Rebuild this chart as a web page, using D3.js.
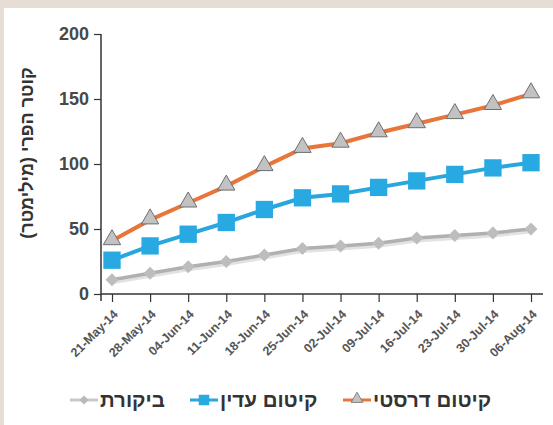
<!DOCTYPE html>
<html lang="he">
<head>
    <meta charset="UTF-8">
    <title>Fruit diameter</title>
    <script src="https://cdn.jsdelivr.net/npm/d3@7"></script>
    <style>
        body{
            margin: 0;
            background-color: #e6ddd5;
        }
        text{
            font-family: "Liberation Sans", Arial, sans-serif;
        }
    </style>
</head>
<body>
<script>

    // data
    const dates = ["21-May-14","28-May-14","04-Jun-14","11-Jun-14","18-Jun-14","25-Jun-14",
                   "02-Jul-14","09-Jul-14","16-Jul-14","23-Jul-14","30-Jul-14","06-Aug-14"];
    const control = [11, 16, 21, 25, 30, 35, 37, 39, 43, 45, 47, 50];
    const mild    = [26, 37, 46, 55, 65, 74, 77, 82, 87, 92, 97, 101];
    const drastic = [41, 57, 70, 83, 98, 112, 116, 124, 131, 138, 145, 154];
    const yTicks  = [0, 50, 100, 150, 200];
    const seriesNames = ["ביקורת", "קיטום עדין", "קיטום דרסטי"];
    const yTitle = "קוטר הפרי (מילימטר)";

    const width = 553, height = 425;

    const svg = d3.select("body").append("svg")
        .attr("width", width)
        .attr("height", height)
        .style("display", "block");

    // white panel on the beige page
    svg.append("rect")
        .attr("x", 4).attr("y", 8)
        .attr("width", width - 4).attr("height", height - 8)
        .attr("fill", "#fff");

    const x = d3.scalePoint().domain(dates).range([112, 531]);
    const y = d3.scaleLinear().domain([0, 200]).range([294, 34]);

    // y axis
    const yAxis = svg.append("g")
        .attr("transform", "translate(101,0)")
        .call(d3.axisLeft(y).tickValues(yTicks).tickSize(7).tickPadding(5));
    yAxis.select(".domain").remove();
    yAxis.selectAll("line").attr("stroke", "#333").attr("stroke-width", 1.2);
    yAxis.selectAll("text")
        .attr("fill", "#484848")
        .style("font-size", "18px")
        .style("font-weight", "bold");
    svg.append("line")
        .attr("x1", 101).attr("x2", 101)
        .attr("y1", y(200)).attr("y2", y(0) + 7)
        .attr("stroke", "#333").attr("stroke-width", 1.5);

    // x axis
    const xAxis = svg.append("g")
        .attr("transform", `translate(0,${y(0)})`)
        .call(d3.axisBottom(x).tickSize(8).tickSizeOuter(0));
    xAxis.select(".domain").remove();
    xAxis.selectAll("line").attr("stroke", "#333").attr("stroke-width", 1.2);
    xAxis.selectAll("text")
        .attr("fill", "#555")
        .style("font-size", "12.5px")
        .style("font-weight", "bold")
        .attr("text-anchor", "end")
        .attr("dy", "0.35em")
        .attr("transform", "translate(3,18) rotate(-45)")
        .attr("y", 0);
    svg.append("line")
        .attr("x1", 101).attr("x2", 543)
        .attr("y1", y(0)).attr("y2", y(0))
        .attr("stroke", "#333").attr("stroke-width", 1.5);

    // y axis title
    svg.append("text")
        .attr("transform", "translate(33,153) rotate(-90)")
        .attr("text-anchor", "middle")
        .attr("fill", "#333")
        .style("font-size", "18px")
        .style("font-weight", "bold")
        .text(yTitle);

    const line = d3.line()
        .x((d, i) => x(dates[i]))
        .y(d => y(d));

    // control, with a soft shadow
    svg.append("path")
        .attr("d", line(control))
        .attr("transform", "translate(0,2)")
        .attr("fill", "none")
        .attr("stroke", "#e2e2e2")
        .attr("stroke-width", 5);
    svg.append("path")
        .attr("d", line(control))
        .attr("fill", "none")
        .attr("stroke", "#b0b0b0")
        .attr("stroke-width", 3.5);
    svg.append("g").selectAll("path")
        .data(control).join("path")
        .attr("transform", (d, i) => `translate(${x(dates[i])},${y(d)}) rotate(45)`)
        .attr("d", d3.symbol(d3.symbolSquare, 85))
        .attr("fill", "#bdbdbd");

    // mild pruning
    svg.append("path")
        .attr("d", line(mild))
        .attr("fill", "none")
        .attr("stroke", "#2aa6de")
        .attr("stroke-width", 4);
    svg.append("g").selectAll("path")
        .data(mild).join("path")
        .attr("transform", (d, i) => `translate(${x(dates[i])},${y(d)})`)
        .attr("d", d3.symbol(d3.symbolSquare, 300))
        .attr("fill", "#29a9e1");

    // drastic pruning
    svg.append("path")
        .attr("d", line(drastic))
        .attr("fill", "none")
        .attr("stroke", "#e8763a")
        .attr("stroke-width", 4);
    svg.append("g").selectAll("path")
        .data(drastic).join("path")
        .attr("transform", (d, i) => `translate(${x(dates[i])},${y(d) - 1})`)
        .attr("d", d3.symbol(d3.symbolTriangle, 130))
        .attr("fill", "#c2c2c2")
        .attr("stroke", "#6e6e6e")
        .attr("stroke-width", 1);

    // legend
    const legend = svg.append("g").attr("transform", "translate(0,400)");
    const legItems = [
        {name: seriesNames[0], x0: 70, color: "#c8c8c8", shape: "diamond"},
        {name: seriesNames[1], x0: 190, color: "#2aa6de", shape: "square"},
        {name: seriesNames[2], x0: 343, color: "#e8763a", shape: "triangle"}
    ];
    legItems.forEach(it => {
        const g = legend.append("g").attr("transform", `translate(${it.x0},0)`);
        g.append("line")
            .attr("x1", 0).attr("x2", 28)
            .attr("stroke", it.color).attr("stroke-width", 3);
        if (it.shape === "diamond") {
            g.append("path")
                .attr("transform", "translate(14,0) rotate(45)")
                .attr("d", d3.symbol(d3.symbolSquare, 40))
                .attr("fill", "#b8b8b8");
        } else if (it.shape === "square") {
            g.append("path")
                .attr("transform", "translate(14,0)")
                .attr("d", d3.symbol(d3.symbolSquare, 110))
                .attr("fill", "#29a9e1");
        } else {
            g.append("path")
                .attr("transform", "translate(14,-1)")
                .attr("d", d3.symbol(d3.symbolTriangle, 60))
                .attr("fill", "#c2c2c2")
                .attr("stroke", "#6e6e6e")
                .attr("stroke-width", 0.8);
        }
        g.append("text")
            .attr("x", 30)
            .attr("dy", "0.35em")
            .attr("fill", "#333")
            .style("font-size", "20.5px")
            .style("font-weight", "bold")
            .text(it.name);
    });

</script>
</body>
</html>
